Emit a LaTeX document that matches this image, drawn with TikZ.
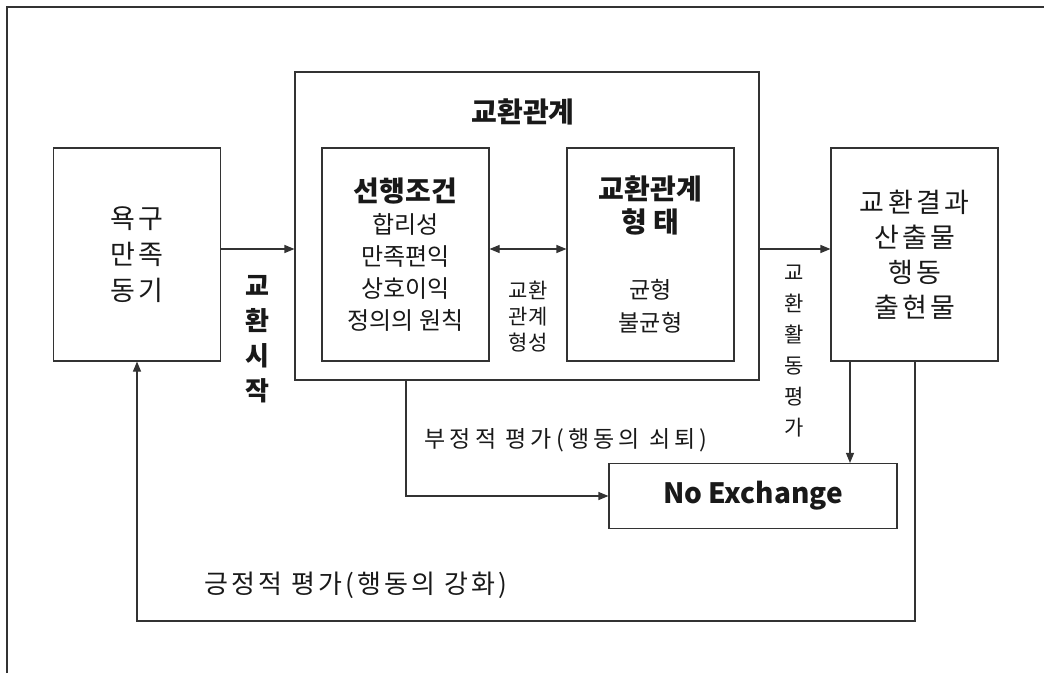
\documentclass[tikz,border=0pt]{standalone}
\usepackage{fontspec}
\setmainfont{Noto Sans CJK KR}
\newfontfamily\wide{Noto Sans CJK KR}[LetterSpace=12]
\newfontfamily\wider{Noto Sans CJK KR}[LetterSpace=18]
\usetikzlibrary{arrows.meta}

\newcommand{\hd}[1]{{\fontsize{28}{35}\selectfont\bfseries #1}}

\begin{document}
\begin{tikzpicture}[x=1pt, y=-1pt, >={Triangle[length=10pt,width=8pt]},
    every node/.style={text=black!90},
    box/.style={draw=black!80, line width=1.1pt, minimum width=167pt, minimum height=213pt, align=center, inner sep=0pt},
    link/.style={draw=black!80, line width=1.1pt},
    lbl/.style={align=center}]
			\useasboundingbox (0,0) rectangle (1044,673);

			% Frame
			\draw[link] (7,673) -- (7,7) -- (1044,7);

			% Nodes
			\node[box, font=\wide\fontsize{27}{36}\selectfont] (need) at (137,254.5) {욕구\\만족\\동기};
			\node[box, minimum width=464pt, minimum height=308pt] (rel) at (527,226) {};
			\node[font=\fontsize{28}{35}\selectfont\bfseries] (relt) at (523,112) {교환관계};
			\node[box, font=\fontsize{24}{32}\selectfont] (pre) at (405.5,254.5) {\hd{선행조건}\\합리성\\만족편익\\상호이익\\정의의 원칙};
			\node[box, font=\fontsize{23}{33}\selectfont] (form) at (650.5,254.5) {\hd{교환관계}\\\hd{형 태}\\[33pt]균형\\불균형};
			\node[box, font=\wide\fontsize{27}{35}\selectfont] (out) at (914.5,254.5) {교환결과\\산출물\\행동\\출현물};
			\node[box, minimum width=288pt, minimum height=65pt, font=\fontsize{28}{34}\selectfont\bfseries] (noex) at (753,496) {No Exchange};

			% Labels
			\node[lbl, font=\fontsize{26}{35}\selectfont\bfseries] (start) at (257,339) {교\\환\\시\\작};
			\node[lbl, font=\fontsize{21}{26}\selectfont] (build) at (528,317) {교환\\관계\\형성};
			\node[lbl, font=\fontsize{21}{31}\selectfont] (eval) at (794,351) {교\\환\\활\\동\\평\\가};
			\node[lbl, font=\wider\fontsize{23}{30}\selectfont] (neg) at (566,440) {부정적 평가(행동의 쇠퇴)};
			\node[lbl, font=\wide\fontsize{26}{30}\selectfont] (pos) at (356,585) {긍정적 평가(행동의 강화)};

			% Links
			\coordinate (row) at (0,249);
			\draw[link, ->] (need.east |- row) -- (rel.west |- row);
			\draw[link, <->] (pre.east |- row) -- (form.west |- row);
			\draw[link, ->] (rel.east |- row) -- (out.west |- row);
			\coordinate (negx) at (406,0);
			\draw[link, ->] (rel.south -| negx) |- (noex.west);
			\coordinate (stopx) at (850,0);
			\draw[link, ->] (out.south -| stopx) -- (noex.north -| stopx);
			\coordinate (back) at (137,621);
			\coordinate (posx) at (915,0);
			\draw[link, ->] (out.south -| posx) |- (back) -- (need.south);
		\end{tikzpicture}
\end{document}
